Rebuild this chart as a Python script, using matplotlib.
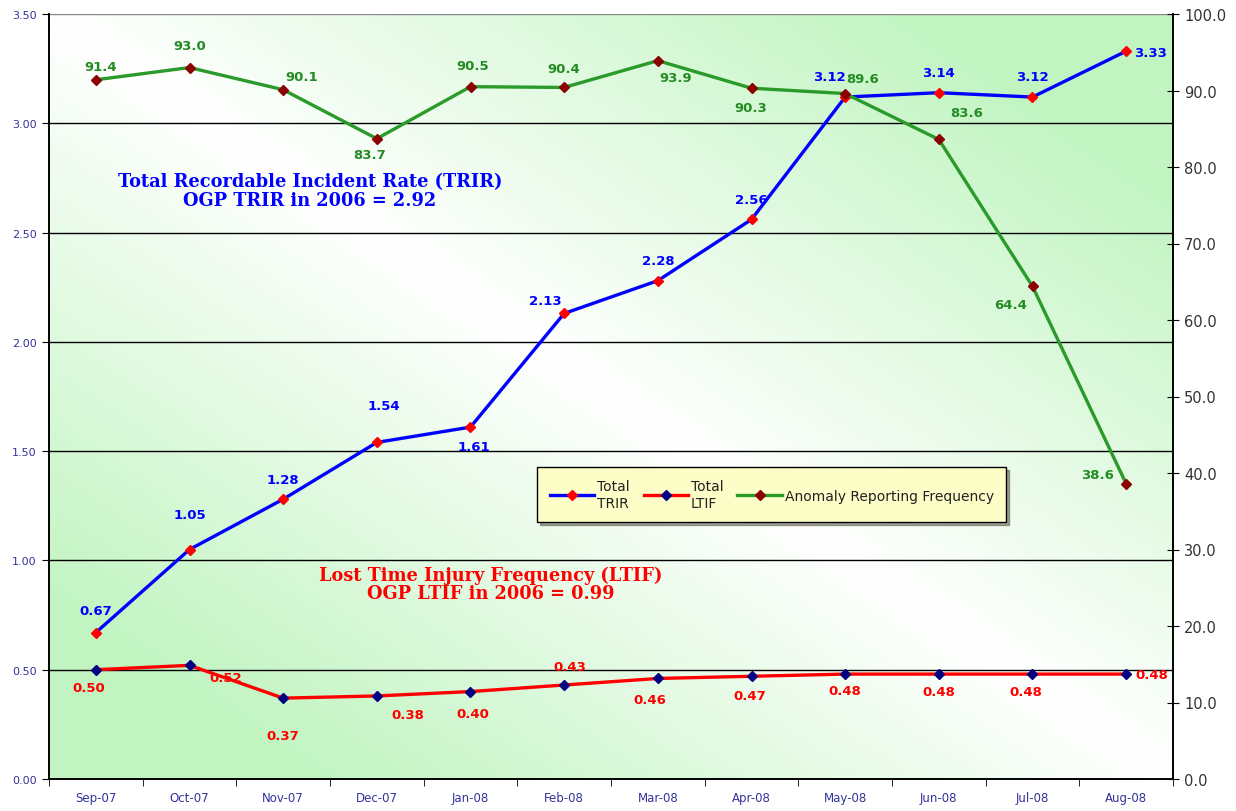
import matplotlib
matplotlib.use('Agg')
import matplotlib.pyplot as plt
import numpy as np

# ------------------------------------------------------------
# Data
# ------------------------------------------------------------
months = ['Sep-07', 'Oct-07', 'Nov-07', 'Dec-07', 'Jan-08', 'Feb-08',
          'Mar-08', 'Apr-08', 'May-08', 'Jun-08', 'Jul-08', 'Aug-08']
trir = [0.67, 1.05, 1.28, 1.54, 1.61, 2.13, 2.28, 2.56, 3.12, 3.14, 3.12, 3.33]
ltif = [0.50, 0.52, 0.37, 0.38, 0.40, 0.43, 0.46, 0.47, 0.48, 0.48, 0.48, 0.48]
arf = [91.4, 93.0, 90.1, 83.7, 90.5, 90.4, 93.9, 90.3, 89.6, 83.6, 64.4, 38.6]

# label offsets in pixels (dx, dy)
trir_off = [(0, 22), (0, 35), (0, 20), (7, 37), (3, -19), (-19, 13),
            (0, 20), (0, 20), (-16, 21), (0, 20), (0, 21), (24, -1)]
ltif_off = [(-7, -18), (36, -12), (0, -37), (31, -19), (2, -22), (6, 19),
            (-8, -21), (-2, -19), (0, -16), (0, -17), (-7, -17), (26, 0)]
arf_off = [(5, 13), (0, 22), (19, 13), (-7, -16), (2, 21), (0, 19),
           (18, -17), (-1, -19), (17, 15), (28, 27), (-22, -18), (-29, 9)]

x = np.arange(len(months))

fig = plt.figure(figsize=(12.36, 8.12), dpi=100)
ax = fig.add_axes([49 / 1236, 32 / 812, 1124 / 1236, 765 / 812])
ax2 = ax.twinx()

# background gradient: green in top-right / bottom-left, white on the other diagonal
gx, gy = np.meshgrid(np.linspace(0, 1, 300), np.linspace(1, 0, 200))
t = np.clip(np.abs(gx + gy - 1) * 1.3, 0, 1)
green = np.array([0.76, 0.96, 0.76])
white = np.array([1.0, 1.0, 1.0])
img = white[None, None, :] * (1 - t[..., None]) + green[None, None, :] * t[..., None]
ax.imshow(img, extent=[-0.5, 11.5, 0, 3.5], aspect='auto', zorder=0)

# grid lines
for yv in np.arange(0.5, 3.5, 0.5):
    ax.axhline(yv, color='black', lw=1.0, zorder=1)
ax.axhline(3.5, color='#888888', lw=1.0, zorder=1)

l1, = ax.plot(x, trir, color='#0000ff', lw=2.4, marker='D', ms=5,
              mfc='#ff0000', mec='#ff0000', zorder=4, label='Total\nTRIR')
l2, = ax.plot(x, ltif, color='#ff0000', lw=2.4, marker='D', ms=5,
              mfc='#000080', mec='#000080', zorder=4, label='Total\nLTIF')
l3, = ax2.plot(x, arf, color='#2a9a2a', lw=2.4, marker='D', ms=5,
               mfc='#8b0000', mec='#8b0000', zorder=4,
               label='Anomaly Reporting Frequency')

for i in range(len(x)):
    ax.annotate(f'{trir[i]:.2f}', (x[i], trir[i]), xytext=trir_off[i],
                textcoords='offset pixels', ha='center', va='center',
                color='#0000ff', fontsize=9.5, fontweight='bold', zorder=6)
    ax.annotate(f'{ltif[i]:.2f}', (x[i], ltif[i]), xytext=ltif_off[i],
                textcoords='offset pixels', ha='center', va='center',
                color='#ff0000', fontsize=9.5, fontweight='bold', zorder=6)
    ax2.annotate(f'{arf[i]:.1f}', (x[i], arf[i]), xytext=arf_off[i],
                 textcoords='offset pixels', ha='center', va='center',
                 color='#228b22', fontsize=9.5, fontweight='bold', zorder=6)

# text blocks
ax.text(0.232, 0.769, 'Total Recordable Incident Rate (TRIR)\nOGP TRIR in 2006 = 2.92',
        transform=ax.transAxes, ha='center', va='center', color='#0000ff',
        fontsize=12.8, fontweight='bold', family='DejaVu Serif', linespacing=1.05)
ax.text(0.393, 0.255, 'Lost Time Injury Frequency (LTIF)\nOGP LTIF in 2006 = 0.99',
        transform=ax.transAxes, ha='center', va='center', color='#ff0000',
        fontsize=12.8, fontweight='bold', family='DejaVu Serif', linespacing=1.05)

# axes
ax.set_xlim(-0.5, 11.5)
ax.set_ylim(0, 3.5)
ax2.set_ylim(0, 100)
ax.set_yticks(np.arange(0, 3.51, 0.5))
ax.set_yticklabels([f'{v:.2f}' for v in np.arange(0, 3.51, 0.5)],
                   fontsize=8, color='#333399')
ax2.set_yticks(np.arange(0, 101, 10))
ax2.set_yticklabels([f'{v:.1f}' for v in np.arange(0, 101, 10)],
                    fontsize=10.5, color='#333333')
ax.set_xticks(x)
ax.set_xticklabels(months, fontsize=8.5, color='#333399')
ax.set_xticks(np.arange(-0.5, 12, 1), minor=True)
ax.tick_params(axis='x', which='major', length=0, pad=9)
ax.tick_params(axis='x', which='minor', length=5, direction='out', color='black')
ax.tick_params(axis='y', length=5, direction='out', color='black', pad=4)
ax2.tick_params(axis='y', length=8, direction='inout', color='black', pad=4)

for a in (ax, ax2):
    a.spines['top'].set_visible(False)
    for side in ('left', 'right', 'bottom'):
        a.spines[side].set_color('black')
        a.spines[side].set_linewidth(1.2)

# green line above the TRIR/LTIF axes so the background image stays below
ax2.set_zorder(ax.get_zorder() + 1)
ax2.patch.set_visible(False)

leg = ax2.legend(handles=[l1, l2, l3], loc='center', ncol=3,
                 bbox_to_anchor=(0.643, 0.372), fontsize=10, frameon=True,
                 fancybox=False, shadow=True, handlelength=3.2,
                 columnspacing=1.0, handletextpad=0.2, borderpad=0.9)
leg.get_frame().set_facecolor('#fdfdc8')
leg.get_frame().set_edgecolor('black')
leg.get_frame().set_linewidth(1.0)
for txt in leg.get_texts():
    txt.set_color('#222222')
leg.set_zorder(10)

fig.savefig('out.png', dpi=100)
